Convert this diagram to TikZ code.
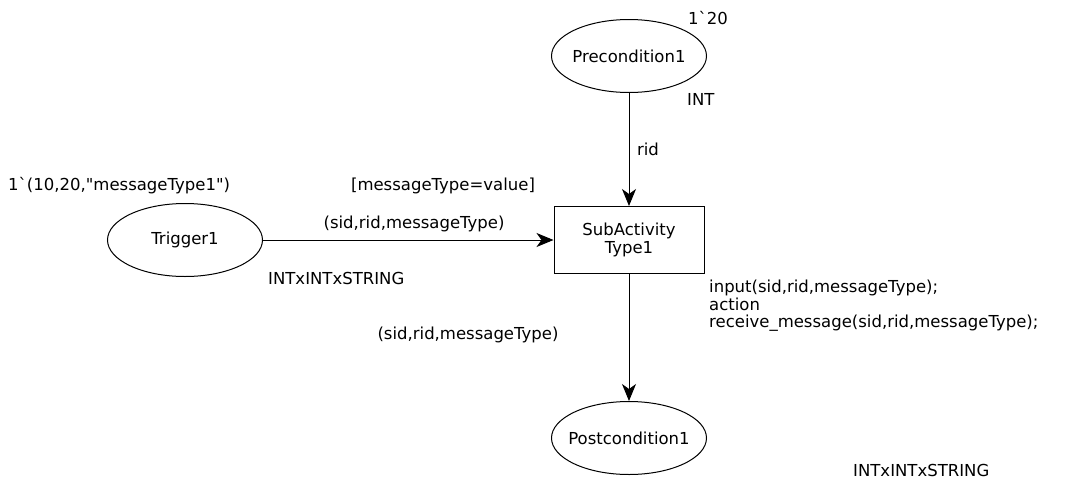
\documentclass[tikz,border=0pt]{standalone}
\usepackage{fontspec}
\newfontfamily\cpnfont{DejaVu Sans}
\usetikzlibrary{shapes.geometric,arrows.meta}
\tikzset{
  place/.style={draw, ellipse, line width=1pt, minimum width=155pt, minimum height=73pt, inner sep=0pt},
  trans/.style={draw, rectangle, line width=1pt, minimum width=150pt, minimum height=67pt, align=center, inner sep=0pt},
  arc/.style={draw, line width=1pt, -{Stealth[length=17pt,width=14pt,inset=5pt]}},
  lbl/.style={inner sep=0pt, anchor=center},
  every node/.style={font=\cpnfont\fontsize{16.5pt}{17.5pt}\selectfont}
}
\begin{document}
\begin{tikzpicture}[x=1pt,y=-1pt]
\useasboundingbox (0,0) rectangle (1066,482);
% places and transition
\node[place, inner xsep=-3pt] (pre) at (629,56) {Precondition1};
\node[place] (trig) at (185,240) {Trigger1};
\node[trans] (sub) at (629,240) {SubActivity\\Type1};
\node[place, inner xsep=-6pt] (post) at (629,438) {Postcondition1};
% initial markings and colour sets
\node[lbl, anchor=west] (preinit) at (688,18) {1`20};
\node[lbl, anchor=west] (precs) at (687,99) {INT};
\node[lbl, anchor=west] (triginit) at (8,186) {1`(10,20,"messageType1")};
\node[lbl, anchor=west] (trigcs) at (268,278) {INTxINTxSTRING};
\node[lbl, anchor=west] (postcs) at (853,470) {INTxINTxSTRING};
% guard and code segment
\node[lbl] (guard) at (443,186) {[messageType=value]};
\node[lbl, anchor=north west, align=left] (code) at (709,280) {input(sid,rid,messageType);\\action\\receive\_message(sid,rid,messageType);};
% arcs
\draw[arc] (pre) -- node[lbl, pos=0.5, xshift=19pt] (a1) {rid} (sub);
\draw[arc] (trig) -- node[lbl, pos=0.52, yshift=16pt] (a2) {(sid,rid,messageType)} (sub);
\draw[arc] (sub) -- node[lbl, pos=0.48, xshift=-161pt] (a3) {(sid,rid,messageType)} (post);
\end{tikzpicture}
\end{document}
